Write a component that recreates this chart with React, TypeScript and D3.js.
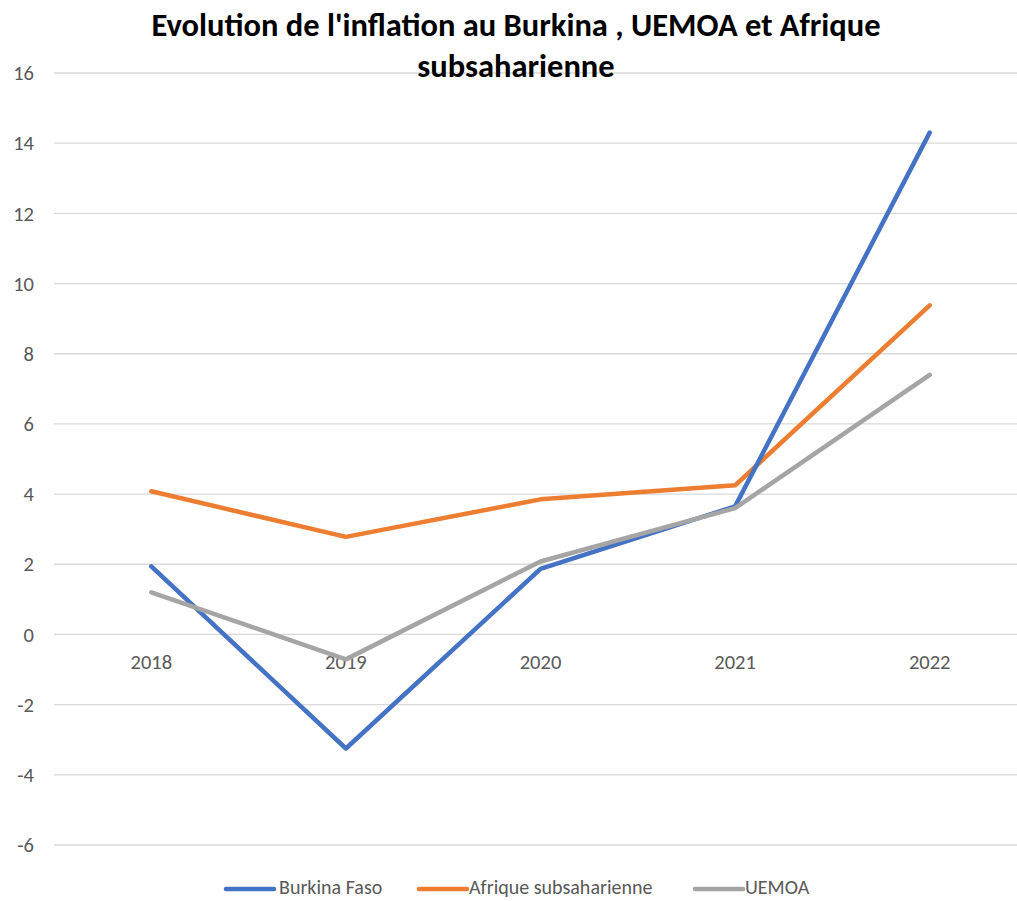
import React from "react";
import * as d3 from "d3";

const years = ["2018", "2019", "2020", "2021", "2022"];
const burkina = [1.94, -3.25, 1.87, 3.65, 14.3];
const afrique = [4.08, 2.78, 3.85, 4.25, 9.38];
const uemoa = [1.2, -0.71, 2.08, 3.6, 7.4];
const yTicks = [-6, -4, -2, 0, 2, 4, 6, 8, 10, 12, 14, 16];

const series = [
  { name: "Burkina Faso", values: burkina, color: "#4472C4" },
  { name: "Afrique subsaharienne", values: afrique, color: "#ED7D31" },
  { name: "UEMOA", values: uemoa, color: "#A5A5A5" },
];
const drawOrder = [1, 0, 2];

const W = 1017;
const H = 901;
const left = 54;
const right = 1027;
const top = 73;
const bottom = 845;

export default function App() {
  const x = d3.scaleBand().domain(years).range([left, right]);
  const y = d3.scaleLinear().domain([-6, 16]).range([bottom, top]);
  const line = d3
    .line<number>()
    .x((_, i) => (x(years[i]) as number) + x.bandwidth() / 2)
    .y((d) => y(d));
  const font = "Carlito, Calibri, 'Open Sans', 'Liberation Sans', sans-serif";
  const legendItems = [
    { x0: 226, tx: 279 },
    { x0: 419, tx: 469 },
    { x0: 695, tx: 745 },
  ];
  const legendY = 888;
  return (
    <svg
      width={W}
      height={H}
      style={{ position: "absolute", left: 0, top: 0, background: "#fff" }}
      fontFamily={font}
    >
      {yTicks.map((t) => (
        <g key={t}>
          <line x1={left} x2={right} y1={y(t)} y2={y(t)} stroke="#D9D9D9" strokeWidth={1.3} />
          <text x={34} y={y(t)} dy="0.35em" textAnchor="end" fontSize={20.5} fill="#595959">
            {t}
          </text>
        </g>
      ))}
      {years.map((yr) => (
        <text
          key={yr}
          x={(x(yr) as number) + x.bandwidth() / 2}
          y={y(0) + 35}
          textAnchor="middle"
          fontSize={20.5}
          fill="#595959"
        >
          {yr}
        </text>
      ))}
      {drawOrder.map((i) => (
        <path
          key={series[i].name}
          d={line(series[i].values) || ""}
          fill="none"
          stroke={series[i].color}
          strokeWidth={4.5}
          strokeLinejoin="round"
          strokeLinecap="round"
        />
      ))}
      <text x={516} y={36} textAnchor="middle" fontSize={32.5} fontWeight="bold" fill="#000">
        Evolution de l'inflation au Burkina , UEMOA et Afrique
      </text>
      <text x={516} y={77} textAnchor="middle" fontSize={32.5} fontWeight="bold" fill="#000">
        subsaharienne
      </text>
      {series.map((s, i) => (
        <g key={s.name}>
          <line
            x1={legendItems[i].x0}
            x2={legendItems[i].x0 + 48}
            y1={legendY + 1}
            y2={legendY + 1}
            stroke={s.color}
            strokeWidth={4.5}
            strokeLinecap="round"
          />
          <text x={legendItems[i].tx} y={legendY} dy="0.3em" fontSize={20} fill="#595959">
            {s.name}
          </text>
        </g>
      ))}
    </svg>
  );
}
